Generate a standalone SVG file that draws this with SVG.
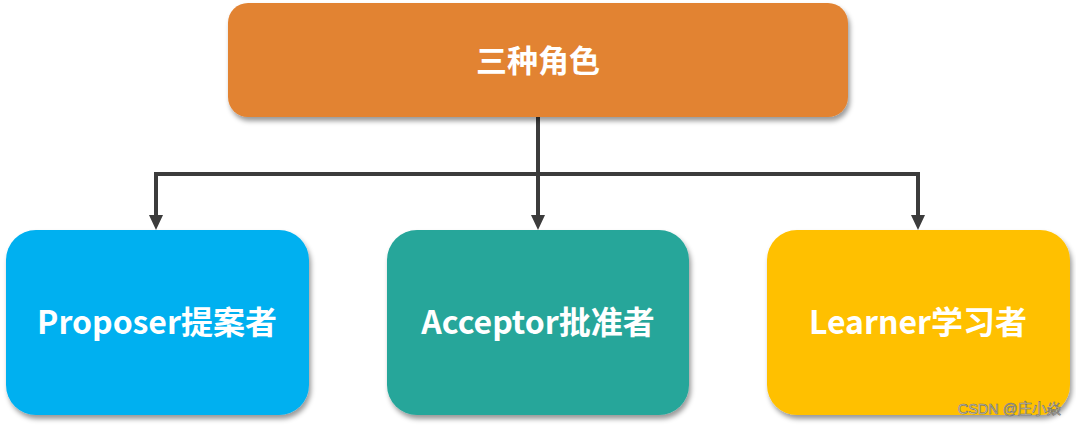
<svg xmlns="http://www.w3.org/2000/svg" width="1076" height="426" viewBox="0 0 1076 426">
  <defs>
    <filter id="shadow" x="-10%" y="-10%" width="120%" height="130%">
      <feDropShadow dx="2" dy="4" stdDeviation="2.5" flood-color="#000" flood-opacity="0.4"/>
    </filter>
  </defs>
  <style>
    .label { font-family: "Noto Sans CJK SC", "Noto Sans", sans-serif; font-weight: bold; fill: #ffffff; text-anchor: middle; dominant-baseline: central; }
    .conn { fill: none; stroke: #3c3c3c; stroke-width: 4; }
    .head { fill: #3c3c3c; }
  </style>
  <rect width="1076" height="426" fill="#ffffff"/>
  <g id="connectors">
    <path class="conn" d="M538,117 L538,216"/>
    <path class="head" d="M531,215 L545,215 L538,230 Z"/>
    <path class="conn" d="M156,216 L156,174 L918,174 L918,216"/>
    <path class="head" d="M149,215 L163,215 L156,230 Z"/>
    <path class="head" d="M911,215 L925,215 L918,230 Z"/>
  </g>
  <g id="node-root">
    <rect x="228" y="3" width="620" height="114" rx="20" ry="20" fill="#e28332" filter="url(#shadow)"/>
    <text class="label" x="538" y="58" font-size="31">三种角色</text>
  </g>
  <g id="node-proposer">
    <rect x="6" y="230" width="303" height="185" rx="30" ry="30" fill="#00b0f0" filter="url(#shadow)"/>
    <text class="label" x="157" y="320" font-size="32">Proposer提案者</text>
  </g>
  <g id="node-acceptor">
    <rect x="387" y="230" width="302" height="185" rx="30" ry="30" fill="#26a69a" filter="url(#shadow)"/>
    <text class="label" x="538" y="320" font-size="32">Acceptor批准者</text>
  </g>
  <g id="node-learner">
    <rect x="767" y="230" width="303" height="185" rx="30" ry="30" fill="#ffc000" filter="url(#shadow)"/>
    <text class="label" x="918" y="320" font-size="32">Learner学习者</text>
  </g>
  <text x="1061" y="414" font-family="'Liberation Sans', 'Noto Sans CJK SC', sans-serif" font-size="14.5" fill="#e6dcc0" stroke="#707070" stroke-width="0.6" text-anchor="end">CSDN @庄小焱</text>
</svg>
